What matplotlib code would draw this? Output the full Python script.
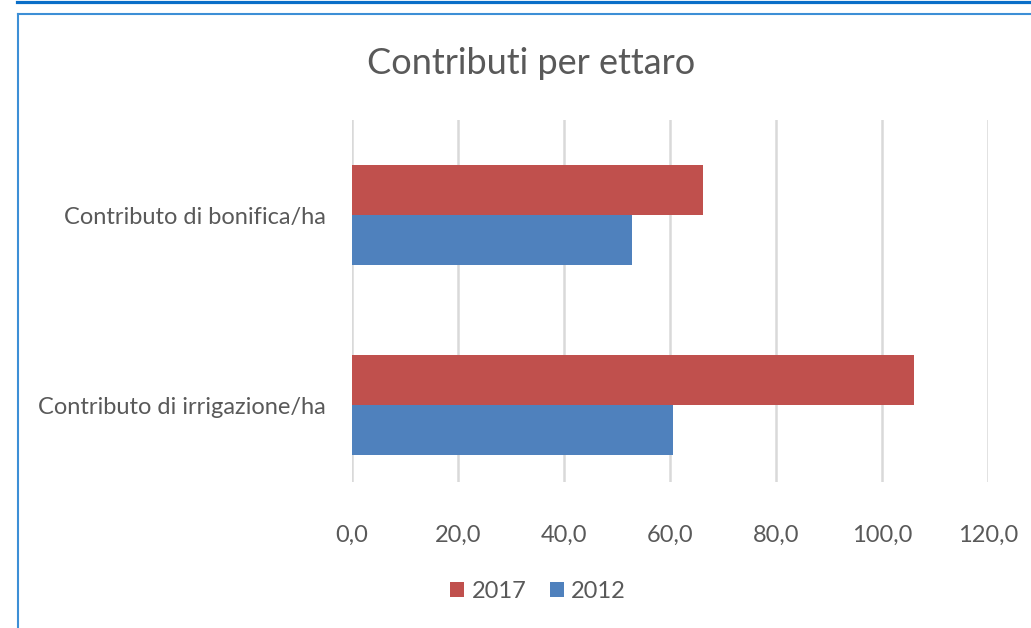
import matplotlib
matplotlib.use("Agg")
import matplotlib.pyplot as plt
from matplotlib.lines import Line2D
from matplotlib.ticker import FuncFormatter

categories = ["Contributo di irrigazione/ha", "Contributo di bonifica/ha"]
series_names = ["2017", "2012"]
values_2017 = [106.1, 66.2]
values_2012 = [60.6, 52.8]
x_ticks = [0, 20, 40, 60, 80, 100, 120]

RED = "#C0504D"
BLUE = "#4F81BD"
GREY = "#595959"

plt.rcParams["font.family"] = ["Lato", "DejaVu Sans"]

fig = plt.figure(figsize=(10.31, 6.28), dpi=100)
W, H = 1031, 628
ax = fig.add_axes([352 / W, 1 - 482 / H, 636 / W, 362 / H])

h = 0.263
pos = list(range(len(categories)))
ax.barh([p + h / 2 for p in pos], values_2017, height=h, color=RED, label=series_names[0], zorder=3)
ax.barh([p - h / 2 for p in pos], values_2012, height=h, color=BLUE, label=series_names[1], zorder=3)

ax.set_xlim(0, 120)
ax.set_ylim(-0.405, 1.5)
ax.set_xticks(x_ticks)
ax.xaxis.set_major_formatter(FuncFormatter(lambda v, _: f"{v:.1f}".replace(".", ",")))
ax.set_yticks(pos)
ax.set_yticklabels(categories)
ax.tick_params(axis="both", length=0, colors=GREY, labelsize=17)
ax.tick_params(axis="x", pad=31)
ax.tick_params(axis="y", pad=19)
ax.grid(axis="x", color="#D9D9D9", lw=1.8, zorder=0)
for s in ax.spines.values():
    s.set_visible(False)

fig.text(531 / W, 1 - 63 / H, "Contributi per ettaro", ha="center", va="center",
         fontsize=26, color=GREY)

leg = fig.legend(loc="center", bbox_to_anchor=(538 / W, 1 - 591 / H), ncol=2,
                 frameon=False, fontsize=17, handlelength=0.6, handleheight=0.6,
                 handletextpad=0.3, columnspacing=1.0)
for t in leg.get_texts():
    t.set_color(GREY)

# frame lines of the embedding slide
fig.add_artist(Line2D([17 / W, 1], [1 - 1.5 / H, 1 - 1.5 / H], color="#0A6EC8", lw=2.3))
fig.add_artist(Line2D([18 / W, 1], [1 - 14 / H, 1 - 14 / H], color="#3D8FD6", lw=1.5))
fig.add_artist(Line2D([18 / W, 18 / W], [0, 1 - 14 / H], color="#3D8FD6", lw=1.5))

fig.savefig("out.png", dpi=100)
